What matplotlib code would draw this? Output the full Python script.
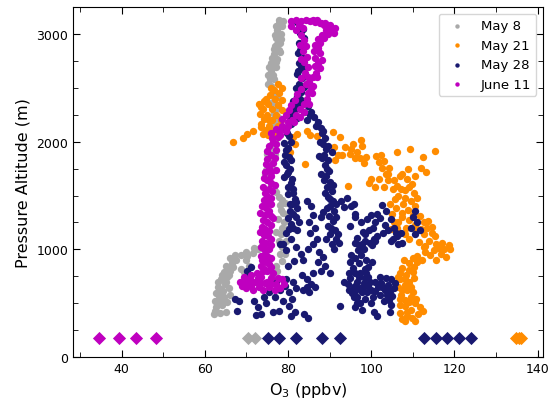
import matplotlib
matplotlib.use("Agg")
import matplotlib.pyplot as plt
from matplotlib.ticker import MultipleLocator

# ozone (ppbv), pressure altitude (m) for each flight
may8 = [
    (62.3, 400), (63.6, 410), (65.0, 420), (62.6, 460), (64.2, 480), (62.4, 520),
    (63.8, 540), (65.3, 510), (62.8, 590), (64.3, 610), (66.0, 580), (63.2, 650),
    (64.8, 680), (65.8, 640), (63.9, 720), (65.3, 740), (64.6, 790), (66.0, 800),
    (65.2, 850), (66.5, 870), (66.0, 920), (67.4, 900), (68.8, 950), (70.2, 940),
    (71.5, 970), (68.6, 820), (69.3, 790), (70.6, 850), (72.8, 1000), (76.2, 750),
    (77.4, 800), (78.6, 890), (79.3, 960),
    (62.5, 430), (63.0, 500), (63.5, 570), (64.0, 630), (64.5, 560), (63.2, 700),
    (64.2, 760), (65.0, 700), (65.8, 760), (65.5, 820), (66.8, 840), (67.2, 950),
    (69.8, 900), (70.0, 980), (71.8, 1010), (73.5, 1020), (77.0, 850), (78.0, 960),
    (78.5, 1020), (79.6, 1080), (78.2, 1140), (79.8, 1190), (77.2, 1160), (79.0, 1250),
    (79.9, 1310), (78.3, 1370), (79.2, 1430), (77.8, 1490), (76.6, 1560), (75.4, 1640),
    (74.5, 1700), (75.8, 1770), (76.4, 1850), (75.6, 1930), (76.8, 2010), (77.3, 2090),
    (77.8, 1080), (78.6, 1200), (77.7, 1280), (78.8, 1340), (78.0, 1410), (78.5, 1460),
    (77.2, 1530), (76.0, 1600), (75.5, 1680), (74.8, 1740), (75.2, 1810), (75.0, 1890),
    (76.8, 1890), (76.0, 1970), (77.0, 2050), (76.4, 2130),
    (76.2, 2170), (77.6, 2230), (77.0, 2300), (75.8, 2360), (77.3, 2420), (76.3, 2480),
    (75.3, 2540), (76.6, 2580), (75.2, 2620), (76.0, 2660), (77.2, 2690), (75.9, 2730),
    (77.4, 2770), (76.6, 2810), (77.8, 2850), (76.8, 2890), (78.0, 2920), (77.2, 2960),
    (78.4, 3000), (77.4, 3040), (78.6, 3070), (77.8, 3100), (78.9, 3120), (77.6, 3010),
    (76.6, 2700), (75.6, 2580), (77.0, 2200), (76.6, 2260), (77.6, 2330), (76.5, 2370),
    (76.8, 2450), (75.9, 2520), (76.4, 2620), (75.4, 2690), (77.0, 2740), (76.2, 2780),
    (78.0, 2830), (76.6, 2860), (77.4, 2910), (78.2, 2950), (76.8, 2990), (77.0, 3070),
    (78.2, 3080), (77.9, 3130),
]

may21 = [
    (77.6, 2540), (78.6, 2500), (76.6, 2480), (77.9, 2450), (75.6, 2430), (76.9, 2400),
    (78.6, 2390), (74.2, 2380), (73.0, 2350), (75.2, 2350), (77.6, 2340), (74.0, 2300),
    (76.2, 2300), (78.6, 2290), (73.2, 2260), (75.0, 2250), (77.2, 2250), (74.2, 2210),
    (76.2, 2200), (78.4, 2200), (73.4, 2160), (75.4, 2150), (77.6, 2150), (74.6, 2110),
    (76.6, 2100), (79.2, 2120), (75.2, 2060), (74.8, 2400), (73.6, 2320), (75.5, 2200),
    (77.2, 2060), (74.0, 2070), (76.0, 2500),
    (73.6, 2140), (71.6, 2100), (70.1, 2070), (69.2, 2030), (66.8, 2000),
    (80.5, 1900), (81.2, 2040), (82.2, 2075), (81.6, 1980), (84.6, 2100), (85.2, 2060),
    (84.1, 1790), (87.0, 2050), (90.8, 2090), (92.5, 2040), (91.0, 1950), (92.0, 1880),
    (91.2, 1830), (93.8, 1950), (95.2, 1930), (96.6, 1900), (97.8, 1960), (97.5, 2020),
    (93.0, 1880), (97.3, 1850), (98.2, 1800), (94.4, 1590), (95.5, 1980), (94.8, 1890),
    (96.2, 1850), (98.8, 1860), (101.2, 1870), (101.8, 1810),
    (99.5, 1620), (100.8, 1580), (101.8, 1650), (102.4, 1880), (103.0, 1820),
    (102.6, 1760), (103.6, 1700), (104.2, 1760), (104.0, 1640), (106.2, 1900),
    (109.3, 1930), (115.3, 1910), (112.5, 1857), (111.9, 1760), (113.1, 1720),
    (107.5, 1700), (108.6, 1650), (110.5, 1680), (109.0, 1580), (107.2, 1560),
    (110.2, 1520), (108.0, 1480), (105.2, 1560), (106.2, 1590), (109.5, 1450),
    (110.6, 1400), (108.8, 1370), (110.0, 1320), (109.2, 1270), (110.5, 1230),
    (108.3, 1200), (105.0, 1330), (106.0, 1380), (107.3, 1300), (105.5, 1250),
    (104.8, 1190), (104.5, 1420), (105.8, 1470), (103.0, 1580), (100.0, 1650),
    (104.0, 1700), (105.4, 1640), (106.5, 1500), (107.6, 1420), (108.2, 1550),
    (109.8, 1610), (106.8, 1680), (111.0, 1480), (108.8, 1750), (107.5, 1340),
    (106.5, 1250), (106.2, 1200), (108.0, 1140), (109.0, 1100), (110.8, 1180),
    (111.8, 1310), (112.8, 1250), (113.5, 1200), (114.5, 1150), (115.3, 1120),
    (112.6, 1140), (114.0, 1080), (115.6, 1050), (113.0, 1030), (113.6, 1260),
    (114.6, 1210), (112.0, 1190), (111.5, 1070), (112.6, 1020),
    (116.2, 1010), (117.5, 1000), (118.6, 1040), (116.8, 960), (118.0, 930),
    (115.5, 900), (114.2, 950), (113.0, 980), (112.2, 900), (115.0, 990), (117.0, 1060),
    (119.0, 1000), (111.0, 940), (110.0, 920), (107.8, 900),
    (111.0, 880), (110.2, 840), (109.0, 870), (107.5, 830), (106.8, 780), (108.3, 760),
    (110.0, 790), (107.0, 720), (109.2, 700), (108.0, 670), (109.0, 810), (106.5, 740),
    (108.0, 720), (110.3, 730), (109.5, 650), (107.5, 620), (110.0, 600),
    (106.5, 650), (108.5, 620), (107.2, 580), (109.6, 560), (108.0, 530), (110.6, 500),
    (111.8, 460), (112.5, 430), (109.5, 440), (108.2, 470), (107.0, 410), (108.5, 380),
    (109.8, 360), (108.0, 330), (106.8, 540), (109.0, 510), (110.8, 540), (111.2, 400),
    (110.5, 330), (107.5, 350), (106.8, 480), (108.6, 420),
]

may28 = [
    (82.6, 3090), (83.6, 3050), (82.8, 3010), (83.8, 2960), (82.6, 2920), (83.3, 2870),
    (82.3, 2820), (83.6, 2780), (82.6, 2730), (83.1, 2680), (82.1, 2630), (83.4, 2590),
    (82.6, 2540), (81.9, 2500), (83.1, 2460), (82.1, 2420), (81.3, 2380), (82.7, 2340),
    (81.6, 2300), (80.9, 2260), (82.2, 2220), (83.8, 2280), (84.6, 2200),
    (82.2, 3110), (83.0, 3030), (83.4, 2900), (82.9, 2850), (83.8, 2700), (82.4, 2660),
    (83.8, 2510), (82.8, 2400), (82.0, 2320), (80.4, 2200), (85.3, 2250), (86.7, 2150),
    (80.6, 2160), (79.6, 2110), (80.3, 2050), (79.1, 1990), (80.1, 1940), (79.3, 1880),
    (80.6, 1830), (79.6, 1780), (80.1, 1720), (79.1, 1670), (80.6, 1620), (81.1, 1560),
    (80.1, 1510), (81.6, 1470), (80.9, 1420), (82.1, 1380), (81.3, 1330), (80.1, 1290),
    (82.6, 1250), (81.1, 1200), (79.6, 1150), (80.6, 1100), (78.8, 1050), (79.5, 990),
    (79.8, 2080), (80.8, 2000), (79.6, 1920), (80.2, 1860), (79.0, 1810), (80.5, 1750),
    (79.7, 1700), (81.0, 1650), (80.0, 1580), (81.3, 1520), (82.0, 1440), (80.4, 1360),
    (81.8, 1300), (80.8, 1240), (82.2, 1180), (80.2, 1190),
    (84.1, 2380), (84.9, 2330), (85.6, 2280), (86.3, 2230), (87.1, 2180), (87.9, 2130),
    (88.1, 2080), (88.9, 2030), (88.3, 1980), (89.1, 1930), (88.6, 1880), (89.6, 1830),
    (88.9, 1780), (89.9, 1730), (89.1, 1680), (90.1, 1630), (89.3, 1580), (90.6, 1540),
    (89.6, 1490), (90.9, 1450), (90.1, 1400), (91.1, 1360), (89.9, 1310), (90.9, 1260),
    (89.6, 1220), (91.3, 1180), (90.1, 1140), (91.6, 1100), (90.6, 1050), (88.0, 1300),
    (88.5, 1350), (88.0, 1700), (87.5, 1870), (90.5, 1900), (88.5, 2100), (87.6, 2000),
    (89.6, 1960), (88.2, 1850), (89.4, 1750), (88.6, 1640), (90.8, 1600), (89.0, 1520),
    (90.2, 1470), (91.5, 1420), (89.4, 1380), (91.6, 1300), (90.4, 1200), (92.0, 1140),
    (89.2, 1100), (91.0, 1000), (92.2, 1060),
    (92.8, 1450), (94.2, 1480), (95.8, 1420), (93.5, 1390), (96.2, 1300), (97.5, 1250),
    (95.0, 1220), (99.0, 1280), (100.5, 1200), (101.5, 1330), (102.5, 1410),
    (103.5, 1360), (104.8, 1280), (106.0, 1150), (105.2, 1100), (102.8, 1150),
    (101.0, 1080), (99.6, 1060), (98.5, 1140), (110.0, 1300), (111.0, 1250),
    (111.8, 1180), (110.5, 1140), (109.6, 1200), (110.6, 1360), (98.0, 1160),
    (99.5, 1180), (101.0, 1250), (102.2, 1290), (100.0, 1320), (103.2, 1230),
    (104.0, 1180), (105.5, 1200), (107.2, 1150), (106.5, 1050),
    (84.5, 1450), (85.5, 1400), (86.0, 1320), (85.0, 1250), (86.5, 1200), (85.2, 1150),
    (87.0, 1100), (86.0, 1050), (84.8, 1000), (87.5, 980), (88.5, 930), (87.2, 880),
    (89.0, 850), (88.0, 800), (86.0, 780), (90.0, 780), (83.4, 760), (84.5, 720),
    (83.0, 960), (82.0, 1020), (81.5, 890), (80.0, 850), (78.0, 1050), (83.5, 900),
    (80.5, 1420),
    (70.2, 800), (71.2, 840), (70.8, 760), (67.2, 540), (68.3, 520), (67.7, 430),
    (71.8, 520), (72.8, 460), (73.6, 400), (74.8, 500), (72.2, 390), (74.2, 560),
    (75.5, 600), (76.8, 560), (78.0, 620), (79.2, 660), (77.0, 700), (80.2, 600),
    (81.0, 540), (78.8, 520), (80.3, 470), (81.6, 420), (80.8, 380), (83.8, 400),
    (84.8, 360), (76.5, 420), (77.8, 430), (82.0, 640), (83.5, 620), (84.5, 650),
    (85.5, 680), (86.5, 650), (85.0, 600), (79.5, 720), (81.2, 700),
    (94.5, 680), (95.8, 650), (96.6, 700), (97.4, 640), (98.2, 690), (99.2, 660),
    (100.0, 620), (100.8, 700), (101.6, 650), (102.4, 690), (103.2, 620), (104.0, 670),
    (104.8, 720), (105.4, 640), (96.0, 610), (98.6, 730), (102.0, 740), (103.8, 580),
    (95.0, 730), (97.8, 600), (93.5, 700), (94.6, 620), (96.2, 660), (97.0, 740),
    (98.0, 650), (99.8, 700), (101.0, 610), (102.6, 650), (104.4, 610), (105.8, 690),
    (103.5, 730), (99.2, 740), (95.4, 590), (96.6, 560), (98.4, 540), (99.0, 600),
    (97.2, 500), (96.0, 460), (100.5, 560), (102.2, 580), (103.0, 520), (104.8, 480),
    (97.2, 780), (98.4, 820), (97.0, 870), (98.8, 900), (97.6, 950), (98.2, 1000),
    (97.0, 1040), (98.6, 1080), (96.6, 1110), (94.6, 780), (95.6, 830), (94.8, 880),
    (96.0, 920), (100.2, 1040), (101.4, 1120), (100.6, 1100), (98.8, 780), (96.2, 780),
    (95.2, 950), (96.8, 990), (97.8, 1050), (96.0, 1060), (99.2, 840), (100.2, 880),
    (92.5, 475), (95.8, 560), (96.6, 500), (97.8, 440), (99.9, 500), (100.6, 420),
    (101.3, 380), (104.5, 420), (104.2, 530), (105.0, 570),
    (104.8, 1080), (106.2, 1120), (107.4, 1060), (95.2, 1400), (96.2, 1330),
]

jun11 = [
    (80.6, 3120), (81.8, 3130), (83.0, 3120), (84.2, 3130), (85.4, 3120), (86.6, 3110),
    (87.6, 3100), (88.6, 3080), (89.6, 3060), (90.6, 3040), (91.0, 3010), (89.2, 3040),
    (80.8, 3070), (86.0, 3130), (87.0, 3130), (88.0, 3100), (89.0, 3100), (90.0, 3080),
    (91.2, 3060), (82.6, 3080), (83.6, 3060),
    (89.6, 3000), (88.6, 2960), (87.6, 2920), (87.1, 2870), (87.6, 2820), (86.6, 2780),
    (87.3, 2730), (87.8, 2680), (86.8, 2640), (85.9, 2600), (85.1, 2550), (85.6, 2500),
    (84.9, 2450), (84.6, 2400), (83.9, 2350), (82.9, 2300), (81.9, 2250), (80.9, 2200),
    (79.9, 2150), (88.2, 2990), (87.2, 2950), (86.4, 2900), (86.2, 2840), (88.2, 2760),
    (86.4, 2700), (87.0, 2600), (86.0, 2520), (85.8, 2450), (85.0, 2350), (83.8, 2280),
    (82.8, 2230), (81.4, 2180),
    (82.0, 3040), (83.0, 2990), (83.8, 2940), (84.4, 2890), (83.6, 2840), (84.6, 2790),
    (83.8, 2740), (84.8, 2690), (84.0, 2640), (83.2, 2590), (84.2, 2540), (83.0, 2490),
    (82.2, 2440), (81.6, 2390), (80.8, 2340), (80.2, 2290), (79.4, 2250), (78.6, 2210),
    (79.5, 2100), (78.0, 2060), (80.0, 2180), (82.8, 2900), (83.0, 2770), (84.8, 2600),
    (78.5, 2150), (77.0, 2120), (76.0, 2080), (77.5, 2040), (76.5, 2000), (75.5, 1960),
    (77.0, 1920), (76.0, 1880), (75.0, 1840), (76.5, 1800), (75.5, 1760), (74.5, 1720),
    (76.0, 1680), (75.0, 1640), (76.8, 1600), (75.5, 1560), (74.5, 1520), (76.0, 1480),
    (75.0, 1440), (73.8, 1400), (75.5, 1360), (74.5, 1320), (76.5, 1290), (75.0, 1250),
    (73.8, 1210), (75.5, 1170), (74.2, 1130), (76.0, 1100), (74.8, 1060), (73.5, 1020),
    (75.5, 1000), (74.5, 960), (75.8, 920), (74.8, 880), (76.0, 840), (75.0, 800),
    (77.8, 2100), (76.2, 2030), (77.0, 1980), (75.0, 1910), (76.8, 1850), (74.8, 1790),
    (77.0, 1740), (76.0, 1720), (74.2, 1660), (75.8, 1620), (74.0, 1580), (76.2, 1540),
    (75.0, 1500), (74.2, 1460), (76.0, 1420), (74.8, 1380), (73.2, 1340), (75.8, 1310),
    (74.0, 1270), (76.0, 1230), (74.5, 1190), (73.2, 1160), (75.2, 1120), (73.8, 1080),
    (75.8, 1040), (74.2, 1000), (73.5, 940), (75.0, 940), (73.8, 900), (75.5, 860),
    (73.6, 850), (74.2, 820),
    (68.5, 700), (69.5, 740), (70.5, 680), (71.0, 760), (72.0, 700), (73.0, 650),
    (73.5, 740), (74.5, 690), (75.5, 650), (76.0, 730), (77.0, 680), (78.0, 640),
    (78.5, 720), (72.5, 780), (74.0, 800), (76.5, 780), (70.0, 640), (71.5, 620),
    (74.0, 620), (76.8, 620), (69.0, 660), (69.8, 700), (71.2, 660), (72.8, 730),
    (75.0, 700), (77.6, 730), (73.4, 690), (76.0, 680), (79.0, 680), (70.8, 720),
]

# surface values, one row of diamonds near the ground
surf_alt = 175
may8_surf = [70.3, 72.1]
may21_surf = [134.8, 135.5, 136.1]
may28_surf = [75.3, 77.8, 82.0, 88.2, 92.5, 112.8, 115.6, 118.2, 121.1, 124.0]
jun11_surf = [34.6, 39.3, 43.4, 48.2]

labels = ["May 8", "May 21", "May 28", "June 11"]
colors = ["darkgray", "darkorange", "midnightblue", "m"]
profiles = [may8, may21, may28, jun11]
surfaces = [may8_surf, may21_surf, may28_surf, jun11_surf]

fig = plt.figure(figsize=(5.5, 4.06), dpi=100)
ax = fig.add_axes([0.1327, 0.1182, 0.8546, 0.8618])

for lab, col, prof, surf in zip(labels, colors, profiles, surfaces):
    xs = [p[0] for p in prof]
    ys = [p[1] for p in prof]
    ax.scatter(xs, ys, s=28, color=col, linewidths=0, label=lab)
    ax.scatter(surf, [surf_alt] * len(surf), s=45, marker="D", color=col, linewidths=0)

ax.set_xlim(28.3, 141.3)
ax.set_ylim(0, 3250)
ax.xaxis.set_major_locator(MultipleLocator(20))
ax.xaxis.set_minor_locator(MultipleLocator(10))
ax.yaxis.set_major_locator(MultipleLocator(1000))
ax.yaxis.set_minor_locator(MultipleLocator(250))
ax.tick_params(which="both", direction="in", top=True, right=True, labelsize=9)
ax.tick_params(which="major", length=5)
ax.tick_params(which="minor", length=3.5)

ax.set_xlabel("O$_3$ (ppbv)", fontsize=11.5)
ax.set_ylabel("Pressure Altitude (m)", fontsize=11.5)

ax.legend(loc="upper right", fontsize=9.5, markerscale=0.6, scatterpoints=1)

fig.savefig("out.png", dpi=100)
